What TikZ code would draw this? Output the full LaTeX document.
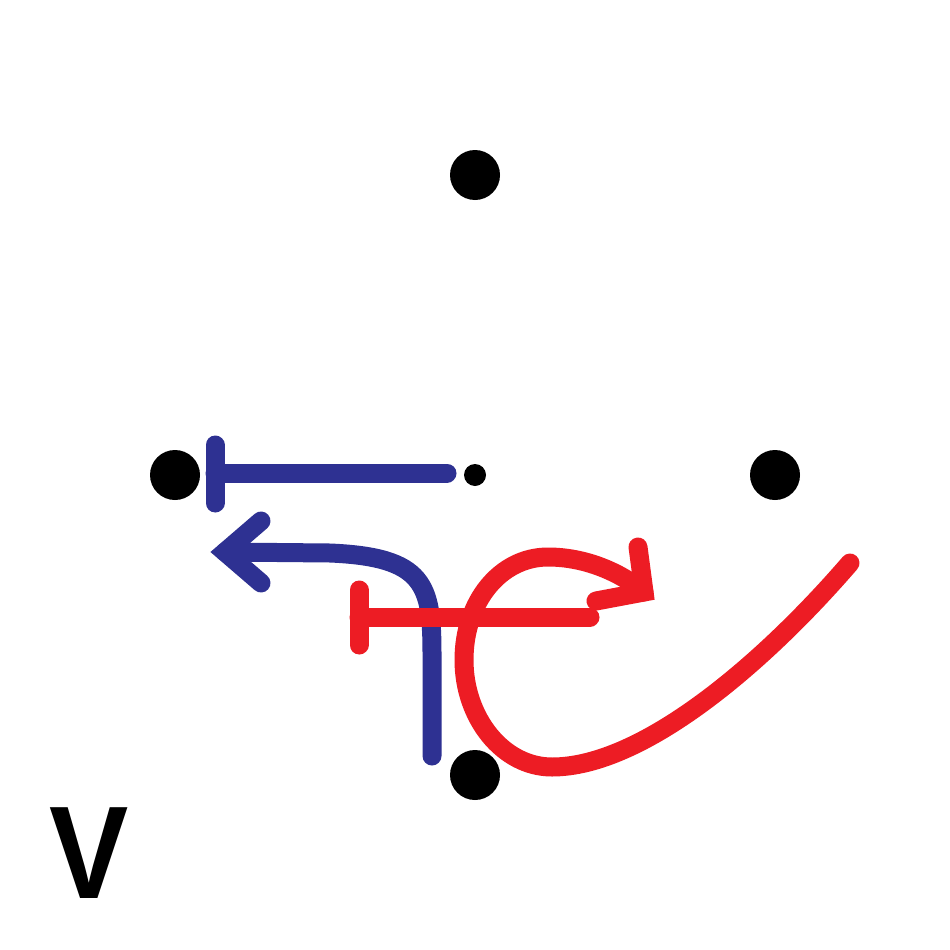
\documentclass[tikz,border=0pt]{standalone}
\usepackage{fontspec}
\newfontfamily\vfont{Liberation Sans}
\definecolor{cblue}{RGB}{46,49,146}
\definecolor{cred}{RGB}{237,28,36}
\begin{document}
\begin{tikzpicture}[x=1pt,y=-1pt,
  dot/.style={circle,fill=black,inner sep=0pt,minimum size=50pt},
  smalldot/.style={circle,fill=black,inner sep=0pt,minimum size=22pt},
  bluestroke/.style={draw=cblue,line width=19pt,line cap=round,line join=round},
  redstroke/.style={draw=cred,line width=19pt,line cap=round,line join=round},
  headstroke/.style={line width=19pt,line cap=round,line join=miter,miter limit=10}]
\useasboundingbox (0,0) rectangle (950,950);
\fill[white] (0,0) rectangle (950,950);
% dots
\node[dot] (top) at (475,175) {};
\node[dot] (left) at (175,475) {};
\node[dot] (right) at (775,475) {};
\node[dot] (bottom) at (475,775) {};
\node[smalldot] (center) at (475,475) {};
% blue T-bar
\coordinate (bt1) at (447,473);
\coordinate (bt2) at (215,473);
\coordinate (bbarA) at (215,445);
\coordinate (bbarB) at (215,503);
\draw[bluestroke] (bt1) -- (bt2);
\draw[bluestroke] (bbarA) -- (bbarB);
% blue curved arrow
\coordinate (ba0) at (432,756);
\coordinate (ba1) at (432,655);
\coordinate (ba2) at (330,553);
\coordinate (batip) at (225,552);
\draw[bluestroke] (ba0) -- (ba1) .. controls (432,585) and (425,557) .. (ba2) -- (batip);
\draw[headstroke,draw=cblue] (261,521) -- (batip) -- (261,583);
% red T-bar
\coordinate (rt1) at (590,617);
\coordinate (rt2) at (359,617);
\coordinate (rbarA) at (359,590);
\coordinate (rbarB) at (359,645);
\draw[redstroke] (rt1) -- (rt2);
\draw[redstroke] (rbarA) -- (rbarB);
% red curved arrow
\coordinate (r0) at (850,563);
\coordinate (rb) at (552,767);
\coordinate (rl) at (464,660);
\coordinate (rtp) at (548,557);
\coordinate (rtip) at (644,592);
\draw[redstroke] (r0) .. controls (762,665) and (642,767) .. (rb)
  .. controls (503,767) and (464,718) .. (rl)
  .. controls (464,602) and (500,557) .. (rtp)
  .. controls (585,557) and (620,572) .. (rtip);
\draw[headstroke,draw=cred] (638,547) -- (rtip) -- (596,601);
% label
\node[font=\vfont\bfseries\fontsize{132}{132}\selectfont,text=black,inner sep=0pt,anchor=base,xscale=0.9] (vlabel) at (89,898) {V};
\end{tikzpicture}
\end{document}
